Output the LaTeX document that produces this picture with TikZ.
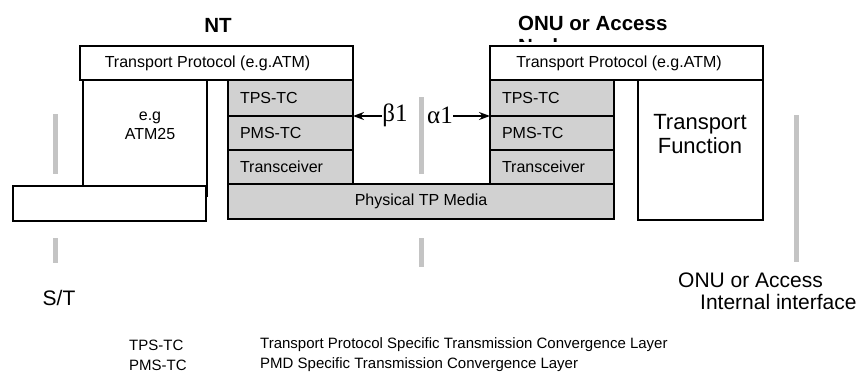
\documentclass[tikz,border=0pt]{standalone}
\usepackage{fontspec}
\setmainfont{Liberation Sans}
\newfontfamily\greekserif{Liberation Serif}
\usetikzlibrary{arrows.meta}
\definecolor{layergray}{gray}{0.82}
\definecolor{refgray}{gray}{0.77}
\tikzset{
  box/.style={draw=black, line width=1.2pt, fill=white, outer sep=0pt, inner sep=0pt, anchor=north west},
  layer/.style={box, fill=layergray, inner xsep=12pt, align=left,
    font=\fontsize{16}{19}\selectfont},
  txt/.style={inner sep=0pt, font=\fontsize{16}{19}\selectfont},
  head/.style={inner sep=0pt, font=\fontsize{20.5}{24}\selectfont\bfseries},
  big/.style={inner sep=0pt, font=\fontsize{21}{25}\selectfont},
  legend/.style={inner sep=0pt, anchor=west, font=\fontsize{15}{18}\selectfont},
  refbar/.style={draw=refgray, line width=5pt},
  greek/.style={inner sep=0pt, font=\fontsize{25}{28}\greekserif},
  ptr/.style={line width=1.4pt, -{Stealth[length=11pt,width=8pt]}}
}
\begin{document}
\begin{tikzpicture}[x=1pt,y=-1pt]
\useasboundingbox (0,0) rectangle (859,372);

% headings; the second line of the access-node heading runs under the box below
\node[head] (nt) at (218,25) {NT};
\node[head, anchor=west] (onuhead) at (518,23) {ONU or Access};
\begin{scope}
  \clip (510,30) rectangle (620,41);
  \node[head, anchor=north west] (onunode) at (518,38) {Node};
\end{scope}

% NT side
\node[box, minimum width=273pt, minimum height=34pt] (ntTP) at (80,46) {};
\node[txt] (ntTPtext) at (207.5,63) {Transport Protocol (e.g.ATM)};
\node[box, minimum width=124pt, minimum height=106pt] (ntATM) at (83,80) {};
\node[txt, align=center] (atmtext) at (150,126) {e.g\\ATM25};
\node[box, minimum width=193pt, minimum height=35pt] (stbox) at (13,186) {};
\coordinate (atmstub) at (207,197);
\draw[line width=1.2pt] (ntATM.south east) -- (atmstub);

\node[layer, text width=101pt, minimum height=36pt] (tps1) at (228,80) {TPS-TC};
\node[layer, text width=101pt, minimum height=34pt] (pms1) at (228,116) {PMS-TC};
\node[layer, text width=101pt, minimum height=34pt] (trx1) at (228,150) {Transceiver};

% shared medium
\node[box, fill=layergray, minimum width=386pt, minimum height=35pt,
  font=\fontsize{16}{19}\selectfont] (media) at (228,184) {Physical TP Media};

% ONU / access node side
\node[box, minimum width=273pt, minimum height=34pt] (onuTP) at (490,46) {};
\node[txt] (onuTPtext) at (619,63) {Transport Protocol (e.g.ATM)};
\node[layer, text width=100pt, minimum height=36pt] (tps2) at (490,80) {TPS-TC};
\node[layer, text width=100pt, minimum height=34pt] (pms2) at (490,116) {PMS-TC};
\node[layer, text width=100pt, minimum height=34pt] (trx2) at (490,150) {Transceiver};
\node[box, minimum width=125pt, minimum height=140pt] (tf) at (638,80) {};
\node[inner sep=0pt, align=center, font=\fontsize{22}{24}\selectfont] (tftext) at (700,134) {Transport\\Function};

% reference points
\draw[refbar] (55,114) -- (55,174);
\draw[refbar] (55,238) -- (55,263);
\draw[refbar] (421,97) -- (421,174);
\draw[refbar] (421,238) -- (421,267);
\draw[refbar] (796,115) -- (796,262);

% interface markers
\node[greek] (beta) at (395,115) {β1};
\node[greek] (alpha) at (440,115) {α1};
\draw[ptr] (beta.west |- pms1.north east) -- (pms1.north east);
\draw[ptr] (alpha.east |- pms2.north west) -- (pms2.north west);

% interface labels
\node[big] (st) at (59,298) {S/T};
\node[big, anchor=west] (onuif1) at (678,280) {ONU or Access};
\node[big, anchor=west] (onuif2) at (700,302) {Internal interface};

% abbreviations
\node[legend] (ab1) at (129,345) {TPS-TC};
\node[legend] (ab2) at (129,365) {PMS-TC};
\node[legend] (de1) at (260,345) {Transport Protocol Specific Transmission Convergence Layer};
\node[legend] (de2) at (260,365) {PMD Specific Transmission Convergence Layer};
\end{tikzpicture}
\end{document}
